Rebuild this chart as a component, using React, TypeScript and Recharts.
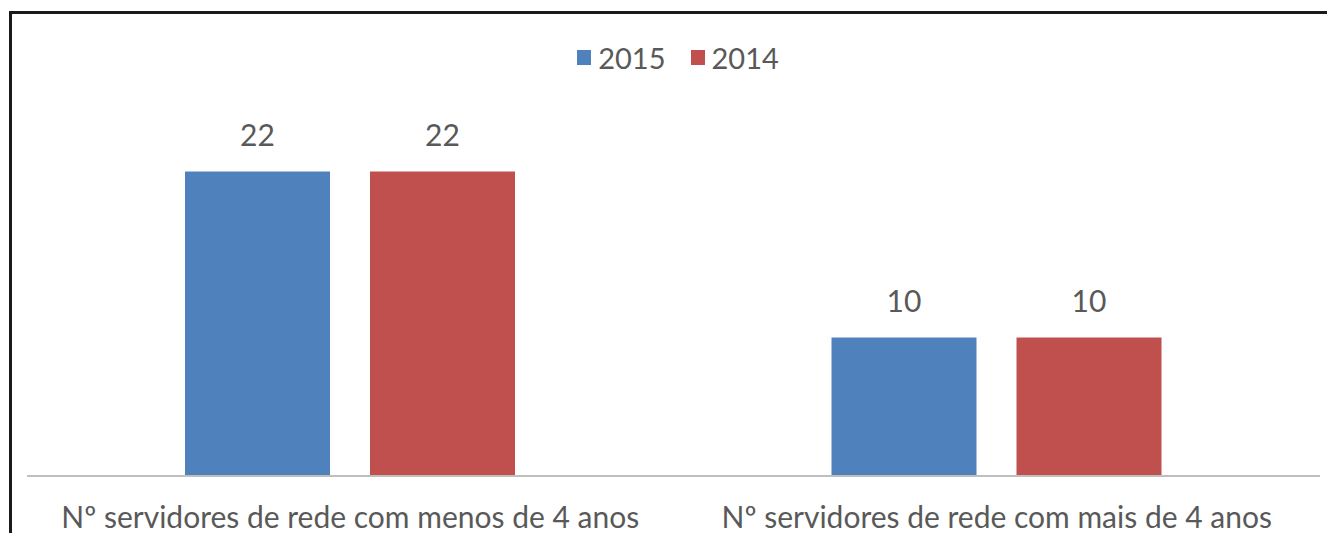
import { BarChart, Bar, XAxis, YAxis, LabelList } from "recharts";

const categories = [
  "Nº servidores de rede com menos de 4 anos",
  "Nº servidores de rede com mais de 4 anos",
];
const values2015 = [22, 10];
const values2014 = [22, 10];

const data = categories.map((name, i) => ({
  name,
  y2015: values2015[i],
  y2014: values2014[i],
}));

const FONT = "Lato, 'Open Sans', sans-serif";
const TEXT = "#595959";

function LegendBox() {
  const items = [
    { label: "2015", color: "#4F81BD" },
    { label: "2014", color: "#C0504D" },
  ];
  return (
    <div style={{ display: "flex", justifyContent: "center", gap: 25, fontFamily: FONT, fontSize: 29, color: TEXT }}>
      {items.map((it) => (
        <div key={it.label} style={{ display: "flex", alignItems: "center", gap: 7 }}>
          <span style={{ width: 14, height: 15, background: it.color, display: "inline-block" }} />
          <span>{it.label}</span>
        </div>
      ))}
    </div>
  );
}

export default function App() {
  return (
    <div
      style={{
        position: "absolute",
        left: 9,
        top: 11,
        width: 1330,
        height: 540,
        borderLeft: "3px solid #1a1a1a",
        borderTop: "3px solid #1a1a1a",
        background: "#fff",
      }}
    >
      <div style={{ position: "absolute", top: 26, left: 7, width: 1318 }}>
        <LegendBox />
      </div>
      <BarChart
        width={1318}
        height={520}
        data={data}
        margin={{ top: 116, right: 10, left: 15, bottom: 8 }}
        barGap={40}
        barSize={145}
      >
        <YAxis hide domain={[0, 25]} />
        <XAxis
          dataKey="name"
          height={50}
          tickLine={false}
          axisLine={{ stroke: "#BFBFBF", strokeWidth: 2 }}
          tick={{ fill: TEXT, fontSize: 30, fontFamily: FONT }}
          tickMargin={25}
          interval={0}
        />
        <Bar dataKey="y2015" fill="#4F81BD" isAnimationActive={false}>
          <LabelList dataKey="y2015" position="top" offset={26} fill={TEXT} fontSize={30} fontFamily={FONT} />
        </Bar>
        <Bar dataKey="y2014" fill="#C0504D" isAnimationActive={false}>
          <LabelList dataKey="y2014" position="top" offset={26} fill={TEXT} fontSize={30} fontFamily={FONT} />
        </Bar>
      </BarChart>
    </div>
  );
}
